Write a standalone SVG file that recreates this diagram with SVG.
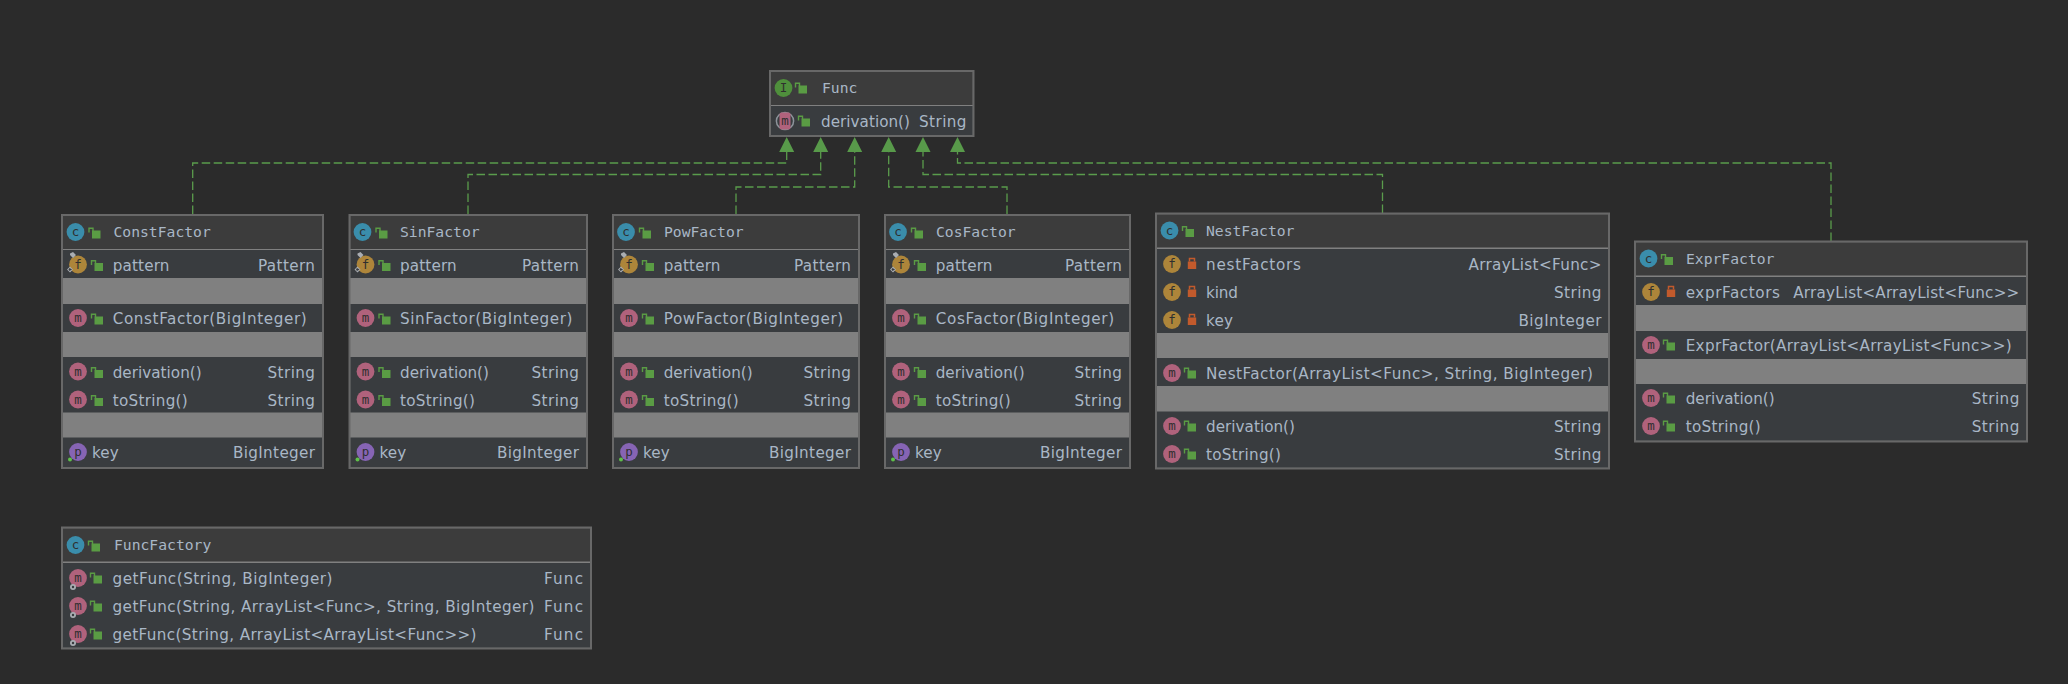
<svg xmlns="http://www.w3.org/2000/svg" width="2068" height="684" viewBox="0 0 2068 684">
<style>
.bd{fill:#808080;stroke:#686868;stroke-width:2}
.hd{fill:#3c3c3c}
.rw{fill:#393c3f}
text{fill:#a9b7c6;font-family:"DejaVu Sans","Liberation Sans",sans-serif;font-size:15.2px}
.t{font-family:"DejaVu Sans Mono","Liberation Mono",monospace;font-size:14.7px}
.e{text-anchor:end}
.g{font-family:"DejaVu Sans Mono",monospace;font-size:12.5px;fill:#2f2f2f;text-anchor:middle}
.con{fill:none;stroke:#5a9c4c;stroke-width:1.3;stroke-dasharray:8.5 3.5;marker-end:url(#tri)}
.gn{fill:#5a9c44}
.rd{fill:#c25a2c}
</style>
<defs>
<marker id="tri" markerUnits="userSpaceOnUse" markerWidth="16" markerHeight="16" refX="0" refY="8" orient="auto" viewBox="0 0 16 16"><path d="M0 0.5L15 8L0 15.500Z" fill="#589a4a"/></marker>
<g id="lo"><rect class="gn" x="-3.500" y="-3.500" width="8.500" height="8"/><path d="M-6.500 -1.500V-5.800H-2.500V-3" fill="none" stroke="#5a9c44" stroke-width="1.400"/></g>
<g id="lc"><rect class="rd" x="-4.200" y="-2.500" width="8.400" height="7.500"/><path d="M-2.500 -2.500V-5.500H2.500V-2.500" fill="none" stroke="#c25a2c" stroke-width="1.500"/></g>
<g id="ic"><circle r="8.900" fill="#3a8dab"/><text class="g" y="4">c</text></g>
<g id="ii"><circle r="8.900" fill="#4f8f3c"/><text class="g" y="4">I</text></g>
<g id="if"><circle r="8.900" fill="#ad853a"/><text class="g" y="4">f</text></g>
<g id="im"><circle r="8.900" fill="#b0627c"/><text class="g" y="4">m</text></g>
<g id="ip"><circle r="8.900" fill="#8664b4"/><text class="g" y="4">p</text><circle cx="-8" cy="7.500" r="2" fill="#5fbf4a"/></g>
<g id="sf"><use href="#if"/><path d="M-8 -11l3 -1.500l3 3l-3 3l-3 -3zM-8 2l3 3l-3 3l-3 -3z" fill="#a9adb2"/><path d="M-8.500 3.500l2.500 1.500l-2.500 1.500l-1 -1.500z" fill="#393c3f"/></g>
<g id="sm"><use href="#im"/><circle cx="-5" cy="9" r="3" fill="#a9adb2"/><circle cx="-5" cy="9" r="1.200" fill="#393c3f"/></g>
<g id="am"><circle r="8.600" fill="#393c3f" stroke="#8d949b" stroke-width="1.500"/><rect x="-5.500" y="-8.500" width="11" height="17" rx="2" fill="#b0627c"/><text class="g" y="4">m</text></g>
</defs>
<rect width="2068" height="684" fill="#2b2b2b"/>
<g id="connectors">
<path class="con" d="M192.700 214V163H786.700V152"/>
<path class="con" d="M468 214V174.500H820.700V152"/>
<path class="con" d="M736 214V187H854.700V152"/>
<path class="con" d="M1007 214V187H888.700V152"/>
<path class="con" d="M1382.500 213V174.500H923V152"/>
<path class="con" d="M1831 241V163H957.500V152"/>
</g>
<g id="node-func">
<rect class="bd" x="770" y="71" width="203.500" height="65"/>
<rect class="hd" x="771" y="72" width="201.500" height="33"/>
<rect class="rw" x="771" y="106" width="201.500" height="29"/>
<use href="#ii" x="783.500" y="88"/><use href="#lo" x="802" y="89"/>
<text class="t" x="822" y="92.500">Func</text>
<use href="#am" x="785" y="121"/><use href="#lo" x="805" y="122"/>
<text x="821" y="126.500" textLength="89">derivation()</text><text class="e" x="966.500" y="126.500" textLength="47.500">String</text>
</g>
<g id="node-constfactor">
<rect class="bd" x="62" y="215" width="261" height="253"/>
<rect class="hd" x="63" y="216" width="259" height="33"/>
<rect class="rw" x="63" y="250" width="259" height="28"/><rect class="rw" x="63" y="304" width="259" height="28"/><rect class="rw" x="63" y="357" width="259" height="55.500"/><rect class="rw" x="63" y="437.500" width="259" height="29.500"/>
<use href="#ic" x="75.500" y="232"/><use href="#lo" x="95.500" y="234"/><text class="t" x="113.500" y="237">ConstFactor</text>
<use href="#sf" x="78" y="264.500"/><use href="#lo" x="98" y="266.500"/><text x="112.700" y="270.500" textLength="56.700">pattern</text><text class="e" x="315" y="270.500" textLength="57">Pattern</text>
<use href="#im" x="78" y="318"/><use href="#lo" x="98" y="320"/><text x="112.700" y="323.500" textLength="194">ConstFactor(BigInteger)</text>
<use href="#im" x="78" y="371.500"/><use href="#lo" x="98" y="373.500"/><text x="112.700" y="377.500" textLength="89">derivation()</text><text class="e" x="315" y="377.500" textLength="47.500">String</text>
<use href="#im" x="78" y="399.500"/><use href="#lo" x="98" y="401.500"/><text x="112.700" y="405.500" textLength="75">toString()</text><text class="e" x="315" y="405.500" textLength="47.500">String</text>
<use href="#ip" x="78" y="452"/><text x="92" y="458" textLength="26.700">key</text><text class="e" x="315" y="458" textLength="82">BigInteger</text>
</g>
<g id="node-sinfactor">
<rect class="bd" x="349.500" y="215" width="237.500" height="253"/>
<rect class="hd" x="350.500" y="216" width="235.500" height="33"/>
<rect class="rw" x="350.500" y="250" width="235.500" height="28"/><rect class="rw" x="350.500" y="304" width="235.500" height="28"/><rect class="rw" x="350.500" y="357" width="235.500" height="55.500"/><rect class="rw" x="350.500" y="437.500" width="235.500" height="29.500"/>
<use href="#ic" x="362.500" y="232"/><use href="#lo" x="382.500" y="234"/><text class="t" x="400" y="237">SinFactor</text>
<use href="#sf" x="365.500" y="264.500"/><use href="#lo" x="385.500" y="266.500"/><text x="400" y="270.500" textLength="56.700">pattern</text><text class="e" x="579" y="270.500" textLength="57">Pattern</text>
<use href="#im" x="365.500" y="318"/><use href="#lo" x="385.500" y="320"/><text x="400" y="323.500" textLength="172.500">SinFactor(BigInteger)</text>
<use href="#im" x="365.500" y="371.500"/><use href="#lo" x="385.500" y="373.500"/><text x="400" y="377.500" textLength="89">derivation()</text><text class="e" x="579" y="377.500" textLength="47.500">String</text>
<use href="#im" x="365.500" y="399.500"/><use href="#lo" x="385.500" y="401.500"/><text x="400" y="405.500" textLength="75">toString()</text><text class="e" x="579" y="405.500" textLength="47.500">String</text>
<use href="#ip" x="365.500" y="452"/><text x="379.500" y="458" textLength="26.700">key</text><text class="e" x="579" y="458" textLength="82">BigInteger</text>
</g>
<g id="node-powfactor">
<rect class="bd" x="613" y="215" width="246" height="253"/>
<rect class="hd" x="614" y="216" width="244" height="33"/>
<rect class="rw" x="614" y="250" width="244" height="28"/><rect class="rw" x="614" y="304" width="244" height="28"/><rect class="rw" x="614" y="357" width="244" height="55.500"/><rect class="rw" x="614" y="437.500" width="244" height="29.500"/>
<use href="#ic" x="626" y="232"/><use href="#lo" x="646" y="234"/><text class="t" x="664" y="237">PowFactor</text>
<use href="#sf" x="629" y="264.500"/><use href="#lo" x="649" y="266.500"/><text x="663.700" y="270.500" textLength="56.700">pattern</text><text class="e" x="851" y="270.500" textLength="57">Pattern</text>
<use href="#im" x="629" y="318"/><use href="#lo" x="649" y="320"/><text x="663.700" y="323.500" textLength="179.500">PowFactor(BigInteger)</text>
<use href="#im" x="629" y="371.500"/><use href="#lo" x="649" y="373.500"/><text x="663.700" y="377.500" textLength="89">derivation()</text><text class="e" x="851" y="377.500" textLength="47.500">String</text>
<use href="#im" x="629" y="399.500"/><use href="#lo" x="649" y="401.500"/><text x="663.700" y="405.500" textLength="75">toString()</text><text class="e" x="851" y="405.500" textLength="47.500">String</text>
<use href="#ip" x="629" y="452"/><text x="643" y="458" textLength="26.700">key</text><text class="e" x="851" y="458" textLength="82">BigInteger</text>
</g>
<g id="node-cosfactor">
<rect class="bd" x="885" y="215" width="245" height="253"/>
<rect class="hd" x="886" y="216" width="243" height="33"/>
<rect class="rw" x="886" y="250" width="243" height="28"/><rect class="rw" x="886" y="304" width="243" height="28"/><rect class="rw" x="886" y="357" width="243" height="55.500"/><rect class="rw" x="886" y="437.500" width="243" height="29.500"/>
<use href="#ic" x="898" y="232"/><use href="#lo" x="918" y="234"/><text class="t" x="936" y="237">CosFactor</text>
<use href="#sf" x="901" y="264.500"/><use href="#lo" x="921" y="266.500"/><text x="935.700" y="270.500" textLength="56.700">pattern</text><text class="e" x="1122" y="270.500" textLength="57">Pattern</text>
<use href="#im" x="901" y="318"/><use href="#lo" x="921" y="320"/><text x="935.700" y="323.500" textLength="178.500">CosFactor(BigInteger)</text>
<use href="#im" x="901" y="371.500"/><use href="#lo" x="921" y="373.500"/><text x="935.700" y="377.500" textLength="89">derivation()</text><text class="e" x="1122" y="377.500" textLength="47.500">String</text>
<use href="#im" x="901" y="399.500"/><use href="#lo" x="921" y="401.500"/><text x="935.700" y="405.500" textLength="75">toString()</text><text class="e" x="1122" y="405.500" textLength="47.500">String</text>
<use href="#ip" x="901" y="452"/><text x="915" y="458" textLength="26.700">key</text><text class="e" x="1122" y="458" textLength="82">BigInteger</text>
</g>
<g id="node-nestfactor">
<rect class="bd" x="1156" y="213.500" width="453" height="255"/>
<rect class="hd" x="1157" y="214.500" width="451" height="33"/>
<rect class="rw" x="1157" y="249" width="451" height="84"/><rect class="rw" x="1157" y="358" width="451" height="28"/><rect class="rw" x="1157" y="411.500" width="451" height="56"/>
<use href="#ic" x="1169.500" y="230.500"/><use href="#lo" x="1189" y="232.500"/><text class="t" x="1206" y="235.500">NestFactor</text>
<use href="#if" x="1172" y="264"/><use href="#lc" x="1192" y="264"/><text x="1206" y="269.500" textLength="95">nestFactors</text><text class="e" x="1601.500" y="269.500" textLength="133">ArrayList&lt;Func&gt;</text>
<use href="#if" x="1172" y="292"/><use href="#lc" x="1192" y="292"/><text x="1206" y="297.500" textLength="32">kind</text><text class="e" x="1601.500" y="297.500" textLength="47.500">String</text>
<use href="#if" x="1172" y="320"/><use href="#lc" x="1192" y="320"/><text x="1206" y="325.500" textLength="27">key</text><text class="e" x="1601.500" y="325.500" textLength="83">BigInteger</text>
<use href="#im" x="1172" y="373"/><use href="#lo" x="1191" y="374"/><text x="1206" y="379" textLength="387">NestFactor(ArrayList&lt;Func&gt;, String, BigInteger)</text>
<use href="#im" x="1172" y="426"/><use href="#lo" x="1191" y="427"/><text x="1206" y="431.500" textLength="89">derivation()</text><text class="e" x="1601.500" y="431.500" textLength="47.500">String</text>
<use href="#im" x="1172" y="454"/><use href="#lo" x="1191" y="455"/><text x="1206" y="459.500" textLength="75">toString()</text><text class="e" x="1601.500" y="459.500" textLength="47.500">String</text>
</g>
<g id="node-exprfactor">
<rect class="bd" x="1635" y="241.500" width="392" height="200"/>
<rect class="hd" x="1636" y="242.500" width="390" height="33"/>
<rect class="rw" x="1636" y="277" width="390" height="28"/><rect class="rw" x="1636" y="331" width="390" height="28"/><rect class="rw" x="1636" y="384" width="390" height="56.500"/>
<use href="#ic" x="1648.500" y="258.500"/><use href="#lo" x="1668" y="260.500"/><text class="t" x="1686" y="263.500">ExprFactor</text>
<use href="#if" x="1651" y="292"/><use href="#lc" x="1671" y="292"/><text x="1685.700" y="297.500" textLength="94.300">exprFactors</text><text class="e" x="2019.300" y="297.500" textLength="226">ArrayList&lt;ArrayList&lt;Func&gt;&gt;</text>
<use href="#im" x="1651" y="345"/><use href="#lo" x="1670" y="346"/><text x="1685.700" y="351" textLength="326">ExprFactor(ArrayList&lt;ArrayList&lt;Func&gt;&gt;)</text>
<use href="#im" x="1651" y="398"/><use href="#lo" x="1670" y="399"/><text x="1685.700" y="404" textLength="89">derivation()</text><text class="e" x="2019.300" y="404" textLength="47.500">String</text>
<use href="#im" x="1651" y="426"/><use href="#lo" x="1670" y="427"/><text x="1685.700" y="432" textLength="75">toString()</text><text class="e" x="2019.300" y="432" textLength="47.500">String</text>
</g>
<g id="node-funcfactory">
<rect class="bd" x="62" y="527.500" width="529" height="121"/>
<rect class="hd" x="63" y="528.500" width="527" height="33"/>
<rect class="rw" x="63" y="563" width="527" height="84.500"/>
<use href="#ic" x="75.500" y="545"/><use href="#lo" x="95" y="547"/><text class="t" x="114" y="550">FuncFactory</text>
<use href="#sm" x="78" y="578"/><use href="#lo" x="97" y="579"/><text x="112.500" y="584" textLength="220">getFunc(String, BigInteger)</text><text class="e" x="583" y="584" textLength="39">Func</text>
<use href="#sm" x="78" y="606"/><use href="#lo" x="97" y="607"/><text x="112.500" y="612" textLength="422">getFunc(String, ArrayList&lt;Func&gt;, String, BigInteger)</text><text class="e" x="583" y="612" textLength="39">Func</text>
<use href="#sm" x="78" y="634"/><use href="#lo" x="97" y="635"/><text x="112.500" y="640" textLength="364">getFunc(String, ArrayList&lt;ArrayList&lt;Func&gt;&gt;)</text><text class="e" x="583" y="640" textLength="39">Func</text>
</g>
</svg>
